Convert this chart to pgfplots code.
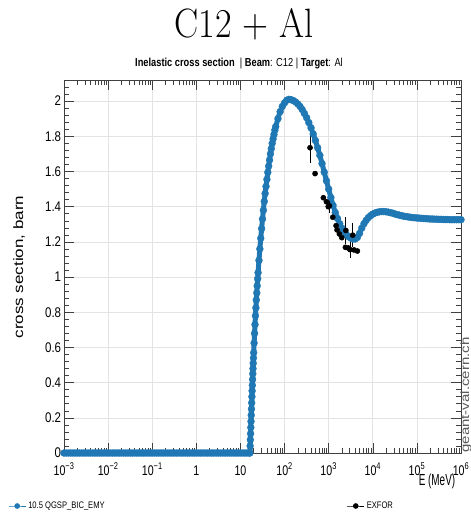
\documentclass[border=0pt]{standalone}
\usepackage{fontspec}
\usepackage{graphicx}
\usepackage{pgfplots}
\usepackage{pgfplotstable}
\pgfplotsset{compat=1.18}
\newfontfamily\sans{Liberation Sans}
\definecolor{rootblue}{RGB}{31,119,180}

\pgfplotstableread[row sep=\\]{
lgE xs\\
-3.00 0\\ -2.95 0\\ -2.90 0\\ -2.85 0\\ -2.80 0\\ -2.75 0\\ -2.70 0\\ -2.65 0\\ -2.60 0\\ -2.55 0\\
-2.50 0\\ -2.45 0\\ -2.40 0\\ -2.35 0\\ -2.30 0\\ -2.25 0\\ -2.20 0\\ -2.15 0\\ -2.10 0\\ -2.05 0\\
-2.00 0\\ -1.95 0\\ -1.90 0\\ -1.85 0\\ -1.80 0\\ -1.75 0\\ -1.70 0\\ -1.65 0\\ -1.60 0\\ -1.55 0\\
-1.50 0\\ -1.45 0\\ -1.40 0\\ -1.35 0\\ -1.30 0\\ -1.25 0\\ -1.20 0\\ -1.15 0\\ -1.10 0\\ -1.05 0\\
-1.00 0\\ -0.95 0\\ -0.90 0\\ -0.85 0\\ -0.80 0\\ -0.75 0\\ -0.70 0\\ -0.65 0\\ -0.60 0\\ -0.55 0\\
-0.50 0\\ -0.45 0\\ -0.40 0\\ -0.35 0\\ -0.30 0\\ -0.25 0\\ -0.20 0\\ -0.15 0\\ -0.10 0\\ -0.05 0\\
0.00 0\\ 0.05 0\\ 0.10 0\\ 0.15 0\\ 0.20 0\\ 0.25 0\\ 0.30 0\\ 0.35 0\\ 0.40 0\\ 0.45 0\\
0.50 0\\ 0.55 0\\ 0.60 0\\ 0.65 0\\ 0.70 0\\ 0.75 0\\ 0.80 0\\ 0.85 0\\ 0.90 0\\ 0.95 0\\
1.00 0\\ 1.05 0\\ 1.10 0\\ 1.15 0\\ 1.20 0\\ 1.215 0\\
1.220 0.04\\ 1.225 0.075\\ 1.230 0.11\\ 1.235 0.145\\ 1.240 0.18\\ 1.245 0.215\\ 1.250 0.25\\
1.255 0.285\\ 1.260 0.32\\ 1.265 0.353\\ 1.270 0.385\\ 1.275 0.418\\ 1.280 0.45\\ 1.285 0.48\\
1.290 0.51\\ 1.295 0.54\\ 1.300 0.57\\
1.31 0.625\\ 1.32 0.68\\ 1.33 0.73\\ 1.34 0.78\\ 1.35 0.825\\ 1.36 0.87\\ 1.37 0.91\\ 1.38 0.95\\
1.39 0.99\\ 1.40 1.025\\
1.42 1.095\\ 1.44 1.16\\ 1.46 1.22\\ 1.48 1.275\\ 1.50 1.33\\ 1.52 1.38\\ 1.54 1.43\\ 1.56 1.475\\
1.58 1.515\\ 1.60 1.555\\ 1.62 1.595\\ 1.64 1.63\\ 1.66 1.665\\ 1.68 1.70\\ 1.70 1.73\\ 1.72 1.76\\
1.74 1.785\\ 1.76 1.81\\ 1.78 1.835\\ 1.80 1.855\\
1.85 1.90\\ 1.90 1.94\\ 1.95 1.97\\ 2.00 1.99\\ 2.05 2.005\\ 2.10 2.01\\ 2.15 2.008\\ 2.20 2.003\\
2.25 1.995\\ 2.30 1.984\\ 2.35 1.97\\ 2.40 1.952\\ 2.45 1.93\\ 2.50 1.906\\ 2.55 1.878\\ 2.60 1.848\\
2.65 1.813\\ 2.70 1.776\\ 2.75 1.735\\ 2.80 1.692\\ 2.85 1.645\\ 2.90 1.596\\ 2.95 1.547\\ 3.00 1.50\\
3.05 1.452\\ 3.10 1.407\\ 3.15 1.367\\ 3.20 1.333\\ 3.25 1.303\\ 3.30 1.278\\ 3.35 1.258\\ 3.40 1.242\\
3.45 1.23\\ 3.50 1.222\\ 3.55 1.217\\ 3.60 1.216\\ 3.65 1.225\\ 3.70 1.248\\ 3.75 1.278\\ 3.80 1.303\\
3.85 1.322\\ 3.90 1.338\\ 3.95 1.349\\ 4.00 1.358\\ 4.05 1.364\\ 4.10 1.368\\ 4.15 1.371\\ 4.20 1.372\\
4.25 1.372\\ 4.30 1.371\\ 4.35 1.369\\ 4.40 1.366\\ 4.45 1.363\\ 4.50 1.359\\ 4.55 1.355\\ 4.60 1.352\\
4.65 1.349\\ 4.70 1.346\\ 4.75 1.344\\ 4.80 1.342\\ 4.85 1.340\\ 4.90 1.338\\ 4.95 1.337\\ 5.00 1.336\\
5.05 1.335\\ 5.10 1.334\\ 5.15 1.333\\ 5.20 1.332\\ 5.25 1.331\\ 5.30 1.330\\ 5.35 1.330\\ 5.40 1.329\\
5.45 1.329\\ 5.50 1.328\\ 5.55 1.328\\ 5.60 1.327\\ 5.65 1.327\\ 5.70 1.327\\ 5.75 1.326\\ 5.80 1.326\\
5.85 1.326\\ 5.90 1.326\\ 5.95 1.326\\ 6.00 1.326\\
}\geantdata

\pgfplotstableread[row sep=\\]{
lgE xs err\\
2.578 1.735 0.085\\
2.692 1.588 0.012\\
2.880 1.451 0.012\\
2.950 1.428 0.015\\
2.990 1.400 0.015\\
3.016 1.405 0.040\\
3.093 1.340 0.012\\
3.168 1.292 0.012\\
3.190 1.268 0.012\\
3.243 1.245 0.012\\
3.297 1.224 0.012\\
3.390 1.265 0.075\\
3.380 1.169 0.012\\
3.447 1.165 0.020\\
3.485 1.156 0.050\\
3.546 1.238 0.070\\
3.576 1.154 0.012\\
3.651 1.148 0.012\\
}\exfordata

\begin{document}
\begin{tikzpicture}
\useasboundingbox (-64pt,-61pt) rectangle (407pt,453pt);
\begin{axis}[
  name=ax, at={(0pt,0pt)}, anchor=south west,
  scale only axis, width=397pt, height=373pt,
  xmode=log, xmin=1e-3, xmax=1e6, ymin=0, ymax=2.12,
  xtick={1e-3,1e-2,1e-1,1,10,100,1e3,1e4,1e5,1e6},
  xticklabels={10\textsuperscript{−3},10\textsuperscript{−2},10\textsuperscript{−1},1,10,10\textsuperscript{2},10\textsuperscript{3},10\textsuperscript{4},10\textsuperscript{5},10\textsuperscript{6}},
  minor xtick={2e-3,3e-3,4e-3,5e-3,6e-3,7e-3,8e-3,9e-3,
    2e-2,3e-2,4e-2,5e-2,6e-2,7e-2,8e-2,9e-2,
    2e-1,3e-1,4e-1,5e-1,6e-1,7e-1,8e-1,9e-1,
    2,3,4,5,6,7,8,9,20,30,40,50,60,70,80,90,
    200,300,400,500,600,700,800,900,
    2e3,3e3,4e3,5e3,6e3,7e3,8e3,9e3,
    2e4,3e4,4e4,5e4,6e4,7e4,8e4,9e4,
    2e5,3e5,4e5,5e5,6e5,7e5,8e5,9e5},
  ytick={0,0.2,0.4,0.6,0.8,1,1.2,1.4,1.6,1.8,2},
  yticklabels={0,0.2,0.4,0.6,0.8,1,1.2,1.4,1.6,1.8,2},
  minor ytick={0.04,0.08,0.12,0.16,0.24,0.28,0.32,0.36,0.44,0.48,0.52,0.56,0.64,0.68,0.72,0.76,
    0.84,0.88,0.92,0.96,1.04,1.08,1.12,1.16,1.24,1.28,1.32,1.36,1.44,1.48,1.52,1.56,
    1.64,1.68,1.72,1.76,1.84,1.88,1.92,1.96,2.04,2.08},
  xticklabel style={font=\sans\fontsize{14}{16}\selectfont, xscale=0.76, anchor=base, yshift=-22pt},
  yticklabel style={font=\sans\fontsize{14}{16}\selectfont, xscale=0.82},
  major tick length=10pt, minor tick length=5pt,
  tick style={black!75, line width=0.5pt},
  axis line style={black!75, line width=0.5pt},
  grid=major,
  major grid style={draw=gray!22, line width=0.6pt},
  legend columns=2,
  legend cell align=left,
  legend style={at={(-0.1411,-0.1421)}, anchor=west, draw=none, fill=none, inner sep=0pt,
    font=\sans\fontsize{9.5}{11}\selectfont,
    /tikz/every even column/.append style={column sep=240pt}},
]
\addlegendimage{rootblue, line width=1pt, mark=*, mark size=2.3pt}
\addlegendentry{\scalebox{0.8}[1]{10.5 QGSP\_BIC\_EMY}}
\addlegendimage{black, line width=1pt, mark=*, mark size=2.3pt}
\addlegendentry{\scalebox{0.8}[1]{EXFOR}}
\addplot[forget plot, rootblue, line width=5pt, mark=*, mark size=3.5pt,
  mark options={solid, line width=0.3pt, draw=rootblue, fill=rootblue}]
  table[x expr={10^(\thisrow{lgE})}, y=xs]{\geantdata};
\addplot[forget plot, black, only marks, mark=*, mark size=2.6pt,
  error bars/.cd, y dir=both, y explicit,
  error bar style={line width=0.8pt, black}, error mark=none]
  table[x expr={10^(\thisrow{lgE})}, y=xs, y error=err]{\exfordata};
\end{axis}
\node[anchor=base, xscale=0.88, font=\fontsize{41}{41}\selectfont] at (180pt,415pt) {C12 + Al};
\node[anchor=base, xscale=0.8, font=\sans\fontsize{11.6}{13}\selectfont] at (175pt,386.3pt)
  {\textbf{Inelastic cross section}\ \ | \textbf{Beam}: C12 | \textbf{Target}: Al};
\node[xscale=0.8, rotate=90, font=\sans\fontsize{17}{17}\selectfont] at (-45pt,186pt) {cross section, barn};
\node[anchor=base, xscale=0.62, font=\sans\fontsize{16}{16}\selectfont] at (373pt,-32pt) {E (MeV)};
\node[xscale=0.8, rotate=90, text=black!65, font=\sans\fontsize{15}{15}\selectfont] at (402pt,58pt) {geant-val.cern.ch};
\end{tikzpicture}
\end{document}
